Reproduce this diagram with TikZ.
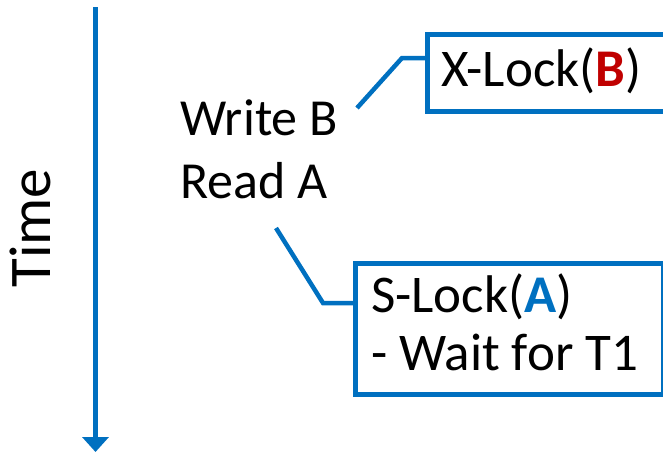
\documentclass[tikz,border=0pt]{standalone}
\usepackage{fontspec}
\setmainfont{Carlito}
\usetikzlibrary{arrows.meta}
\definecolor{lblue}{HTML}{0070C0}
\definecolor{lred}{HTML}{C00000}
\tikzset{
  conn/.style={draw=lblue, line width=4.5pt},
  lockbox/.style={draw=lblue, line width=4.5pt, rectangle, anchor=north west, inner sep=0pt},
  locktext/.style={anchor=base west, inner sep=0pt, font=\fontsize{53}{58}\selectfont},
  optext/.style={anchor=base west, inner sep=0pt, font=\fontsize{52}{62}\selectfont}
}
\begin{document}
\begin{tikzpicture}[x=1pt,y=-1pt]
\useasboundingbox (0,0) rectangle (663,453);
% time axis
\coordinate (tA) at (95.5,7);
\coordinate (tB) at (95.5,452);
\draw[conn, -{Triangle[width=26pt,length=15pt]}] (tA) -- (tB);
\node[rotate=90, anchor=base, inner sep=0pt, font=\fontsize{59}{70}\selectfont] (time) at (50,228) {Time};
% operations
\node[optext] (wb) at (180,135) {Write B};
\node[optext] (ra) at (180,198) {Read A};
% X-Lock box
\node[lockbox, minimum width=290pt, minimum height=77pt] (xl) at (425,32) {};
\node[locktext] (xlt) at (441,86) {X-Lock(\textbf{\textcolor{lred}{B}})};
\coordinate (x1) at (357,108);
\coordinate (x2) at (402,58);
\draw[conn] (x1) -- (x2) -- (x2 -| xl.west);
% S-Lock box
\node[lockbox, minimum width=308pt, minimum height=131pt] (sl) at (353,261) {};
\node[locktext] (slt1) at (371,312) {S-Lock(\textbf{\textcolor{lblue}{A}})};
\node[locktext] (slt2) at (371,370) {- Wait for T1};
\coordinate (s1) at (276,228);
\coordinate (s2) at (323,303);
\draw[conn] (s1) -- (s2) -- (s2 -| sl.west);
\end{tikzpicture}
\end{document}
